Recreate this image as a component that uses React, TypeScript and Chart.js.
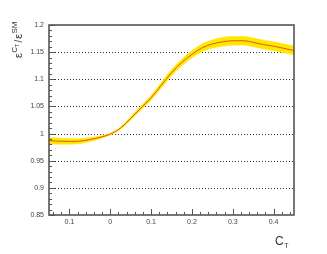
import React, { useEffect, useRef } from "react";
import { Chart, registerables } from "chart.js";
Chart.register(...registerables);

const xValues = [-0.15, -0.125, -0.1, -0.075, -0.05, -0.025, 0, 0.025, 0.05, 0.075, 0.1, 0.125, 0.15, 0.175, 0.2, 0.225, 0.25, 0.275, 0.3, 0.325, 0.35, 0.375, 0.4, 0.425, 0.45];
const centerValues = [0.987, 0.986, 0.9855, 0.986, 0.989, 0.993, 0.999, 1.010, 1.028, 1.047, 1.066, 1.089, 1.112, 1.131, 1.146, 1.158, 1.165, 1.169, 1.171, 1.171, 1.168, 1.164, 1.161, 1.157, 1.153];
const upperValues = [0.993, 0.9915, 0.9905, 0.9905, 0.9925, 0.9955, 1.0005, 1.012, 1.031, 1.0505, 1.070, 1.094, 1.1175, 1.137, 1.1525, 1.165, 1.1725, 1.177, 1.179, 1.179, 1.176, 1.172, 1.169, 1.165, 1.161];
const lowerValues = [0.981, 0.9805, 0.9805, 0.9815, 0.9855, 0.9905, 0.9975, 1.008, 1.025, 1.0435, 1.062, 1.084, 1.1065, 1.125, 1.1395, 1.151, 1.1575, 1.161, 1.163, 1.163, 1.160, 1.156, 1.153, 1.149, 1.145];

const yTickValues = [0.85, 0.9, 0.95, 1.0, 1.05, 1.1, 1.15, 1.2];
const yTickLabels = ["0.85", "0.9", "0.95", "1", "1.05", "1.1", "1.15", "1.2"];
const yMinorTicks = [0.86, 0.87, 0.88, 0.89, 0.91, 0.92, 0.93, 0.94, 0.96, 0.97, 0.98, 0.99, 1.01, 1.02, 1.03, 1.04, 1.06, 1.07, 1.08, 1.09, 1.11, 1.12, 1.13, 1.14, 1.16, 1.17, 1.18, 1.19];
const xTickValues = [-0.1, 0, 0.1, 0.2, 0.3, 0.4];
const xTickLabels = ["0.1", "0", "0.1", "0.2", "0.3", "0.4"];
const xMinorTicks = [-0.14, -0.12, -0.08, -0.06, -0.04, -0.02, 0.02, 0.04, 0.06, 0.08, 0.12, 0.14, 0.16, 0.18, 0.22, 0.24, 0.26, 0.28, 0.32, 0.34, 0.36, 0.38, 0.42, 0.44];

const FONT = "'Liberation Sans', 'DejaVu Sans', sans-serif";

const framePlugin = {
  id: "rootFrame",
  beforeDatasetsDraw(chart: any) {
    const { ctx, chartArea } = chart;
    const ys = chart.scales.y;
    ctx.save();
    ctx.strokeStyle = "#333";
    ctx.lineWidth = 1;
    ctx.setLineDash([1, 2]);
    yTickValues.forEach((v) => {
      if (v <= 0.851 || v >= 1.199) return;
      const py = Math.round(ys.getPixelForValue(v)) + 0.5;
      ctx.beginPath();
      ctx.moveTo(chartArea.left, py);
      ctx.lineTo(chartArea.right, py);
      ctx.stroke();
    });
    ctx.restore();
  },
  afterDatasetsDraw(chart: any) {
    const { ctx, chartArea } = chart;
    const xs = chart.scales.x;
    const ys = chart.scales.y;
    ctx.save();
    ctx.strokeStyle = "#555";
    ctx.lineWidth = 1;
    ctx.setLineDash([]);
    ctx.beginPath();
    yTickValues.forEach((v) => {
      const py = Math.round(ys.getPixelForValue(v)) + 0.5;
      ctx.moveTo(chartArea.left, py);
      ctx.lineTo(chartArea.left + 6, py);
    });
    yMinorTicks.forEach((v) => {
      const py = Math.round(ys.getPixelForValue(v)) + 0.5;
      ctx.moveTo(chartArea.left, py);
      ctx.lineTo(chartArea.left + 3, py);
    });
    xTickValues.forEach((v) => {
      const px = Math.round(xs.getPixelForValue(v)) + 0.5;
      ctx.moveTo(px, chartArea.bottom);
      ctx.lineTo(px, chartArea.bottom - 6);
    });
    xMinorTicks.forEach((v) => {
      const px = Math.round(xs.getPixelForValue(v)) + 0.5;
      ctx.moveTo(px, chartArea.bottom);
      ctx.lineTo(px, chartArea.bottom - 3);
    });
    ctx.stroke();
    ctx.lineWidth = 1.6;
    ctx.strokeStyle = "#555";
    ctx.strokeRect(chartArea.left, chartArea.top, chartArea.right - chartArea.left, chartArea.bottom - chartArea.top);
    ctx.restore();
  },
  afterDraw(chart: any) {
    const { ctx } = chart;
    ctx.save();
    ctx.fillStyle = "#333";
    ctx.textBaseline = "alphabetic";
    ctx.translate(21.5, 58);
    ctx.rotate(-Math.PI / 2);
    let x = 0;
    ctx.font = `11px ${FONT}`;
    ctx.fillText("ε", x, 0);
    x += ctx.measureText("ε").width + 0.3;
    ctx.font = `8px ${FONT}`;
    ctx.fillText("C", x, -5);
    x += ctx.measureText("C").width;
    ctx.font = `5px ${FONT}`;
    ctx.fillText("T", x, -3);
    x += ctx.measureText("T").width + 1.5;
    ctx.font = `10px ${FONT}`;
    ctx.fillText("/", x, 0);
    x += ctx.measureText("/").width + 1;
    ctx.font = `11px ${FONT}`;
    ctx.fillText("ε", x, 0);
    x += ctx.measureText("ε").width + 0.3;
    ctx.font = `8px ${FONT}`;
    ctx.fillText("SM", x, -5);
    ctx.restore();

    ctx.save();
    ctx.fillStyle = "#333";
    ctx.font = `12px ${FONT}`;
    ctx.fillText("C", 275, 245);
    const w = ctx.measureText("C").width;
    ctx.font = `7px ${FONT}`;
    ctx.fillText("T", 275 + w + 0.5, 248);
    ctx.restore();
  },
};

export default function App() {
  const canvasRef = useRef<HTMLCanvasElement | null>(null);
  useEffect(() => {
    const canvas = canvasRef.current;
    if (!canvas) return;
    const toPts = (arr: number[]) => xValues.map((x, i) => ({ x, y: arr[i] }));
    const chart = new Chart(canvas, {
      type: "line",
      data: {
        datasets: [
          {
            data: toPts(centerValues),
            borderColor: "#e8521c",
            borderWidth: 1,
            pointRadius: 0,
            fill: false,
            cubicInterpolationMode: "monotone",
            order: 0,
          },
          {
            data: toPts(upperValues),
            borderColor: "rgba(255,232,0,0.6)",
            borderWidth: 1,
            backgroundColor: "#ffe800",
            pointRadius: 0,
            fill: "+1",
            cubicInterpolationMode: "monotone",
            order: 1,
          },
          {
            data: toPts(lowerValues),
            borderColor: "rgba(255,232,0,0.6)",
            borderWidth: 1,
            pointRadius: 0,
            fill: false,
            cubicInterpolationMode: "monotone",
            order: 2,
          },
        ],
      },
      options: {
        animation: false,
        responsive: false,
        events: [],
        layout: { padding: { left: 0, top: 25, right: 33, bottom: 0 } },
        plugins: { legend: { display: false }, tooltip: { enabled: false } },
        scales: {
          x: {
            type: "linear",
            min: -0.15,
            max: 0.45,
            grid: { display: false, drawTicks: false },
            border: { display: false },
            afterBuildTicks: (scale: any) => {
              scale.ticks = xTickValues.map((v) => ({ value: v }));
            },
            afterFit: (scale: any) => {
              scale.height = 39;
            },
            ticks: {
              padding: 3,
              maxRotation: 0,
              autoSkip: false,
              color: "#444",
              font: { size: 7, family: FONT },
              callback: (_v: any, i: number) => xTickLabels[i],
            },
          },
          y: {
            type: "linear",
            min: 0.85,
            max: 1.2,
            grid: { display: false, drawTicks: false },
            border: { display: false },
            afterBuildTicks: (scale: any) => {
              scale.ticks = yTickValues.map((v) => ({ value: v }));
            },
            afterFit: (scale: any) => {
              scale.width = 49;
            },
            ticks: {
              padding: 5,
              autoSkip: false,
              color: "#444",
              font: { size: 7, family: FONT },
              callback: (_v: any, i: number) => yTickLabels[i],
            },
          },
        },
      },
      plugins: [framePlugin],
    } as any);
    return () => chart.destroy();
  }, []);
  return (
    <div style={{ position: "fixed", left: 0, top: 0, width: 327, height: 254, background: "#fff" }}>
      <canvas ref={canvasRef} width={327} height={254} style={{ display: "block" }} />
    </div>
  );
}
